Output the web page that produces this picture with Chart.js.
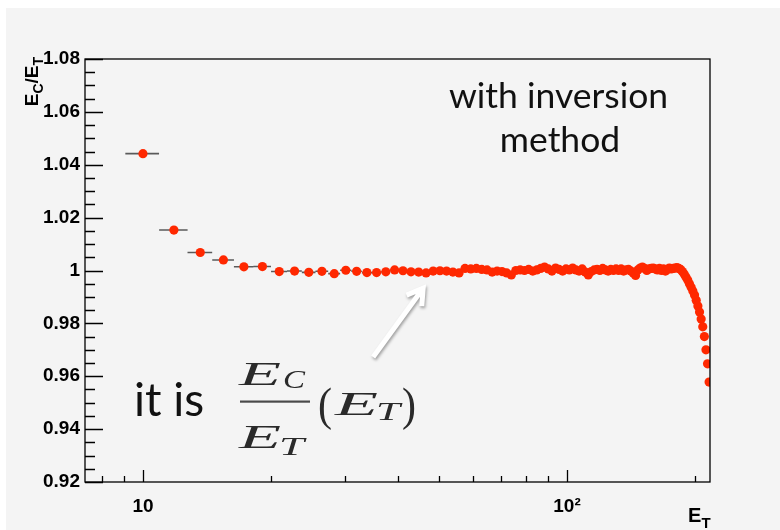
<!DOCTYPE html>
<html><head><meta charset="utf-8">
<script src="https://cdn.jsdelivr.net/npm/chart.js@4.4.1/dist/chart.umd.min.js"></script>
<style>html,body{margin:0;padding:0;background:#fff;}#wrap{width:780px;height:530px;position:relative;}canvas{display:block;}</style>
</head><body><div id="wrap"><canvas id="c" width="780" height="530"></canvas></div>
<script>
// ---- data ----
const energies = [10.00,11.83,13.65,15.48,17.30,19.13,20.96,22.78,24.61,26.43,
28.26,30.09,31.91,33.74,35.56,37.39,39.22,41.04,42.87,44.69,
46.52,48.35,50.17,52.00,53.82,55.65,57.48,59.30,61.13,62.95,
64.78,66.61,68.43,70.26,72.08,73.91,75.74,77.56,79.39,81.21,
83.04,84.87,86.69,88.52,90.34,92.17,94.00,95.82,97.65,99.47,
101.30,103.13,104.95,106.78,108.60,110.43,112.26,114.08,115.91,117.73,
119.56,121.39,123.21,125.04,126.86,128.69,130.52,132.34,134.17,135.99,
137.82,139.65,141.47,143.30,145.12,146.95,148.78,150.60,152.43,154.25,
156.08,157.91,159.73,161.56,163.38,165.21,167.04,168.86,170.69,172.51,
174.34,176.17,177.99,179.82,181.64,183.47,185.30,187.12,188.95,190.77,
192.60,194.43,196.25,198.08,199.90,201.73,203.56,205.38,207.21,209.03,
210.86,212.69,214.51,216.34];
const ratios = [1.0442,1.0153,1.0068,1.0040,1.0014,1.0015,0.9996,0.9998,0.9993,0.9997,
0.9988,1.0001,0.9997,0.9992,0.9992,0.9995,1.0002,0.9999,0.9995,0.9994,
0.9991,0.9998,0.9999,0.9998,0.9994,0.9991,1.0008,1.0006,1.0008,1.0004,
1.0002,0.9994,0.9998,0.9996,0.9991,0.9983,1.0000,1.0002,1.0000,1.0004,
0.9998,1.0002,1.0008,1.0013,1.0006,0.9998,1.0009,1.0004,0.9998,1.0006,
1.0002,1.0009,1.0002,0.9998,1.0006,0.9994,0.9983,0.9996,1.0002,1.0004,
1.0000,1.0008,1.0002,0.9998,1.0004,1.0000,1.0006,1.0000,1.0006,0.9998,
1.0002,1.0004,0.9998,0.9991,0.9981,1.0002,1.0009,1.0013,1.0008,1.0000,
1.0006,1.0008,1.0009,1.0006,1.0002,1.0008,1.0000,1.0006,0.9998,1.0004,
1.0009,1.0006,1.0008,1.0009,1.0011,1.0008,1.0004,0.9996,0.9987,0.9975,
0.9964,0.9950,0.9937,0.9922,0.9907,0.9887,0.9866,0.9843,0.9817,0.9787,
0.9750,0.9700,0.9647,0.9578];
const binHalfWidth = 0.913;
const yMin = 0.92, yMax = 1.08, yMajorStep = 0.02, yMinorStep = 0.005;
const xMin = 7.3, xMax = 217.4;
const xMajorTicks = [10, 100];
const xMinorTicks = [8, 9, 20, 30, 40, 50, 60, 70, 80, 90, 200];
const xTickLabels = {10: '10', 100: '10\u00B2'};
const yTickLabels = {'0.92':'0.92','0.94':'0.94','0.96':'0.96','0.98':'0.98','1.00':'1','1.02':'1.02','1.04':'1.04','1.06':'1.06','1.08':'1.08'};
const noteLines = ['with inversion', 'method'];
const noteText = 'it is';
// arrow annotation in data coordinates: [E, ratio]
const arrowTail = [34.9, 0.9673];
const arrowTip = [45.8, 0.9933];

const RED = '#ff2800';

const bgPlugin = {
  id: 'bg',
  beforeDraw(chart) {
    const c = chart.ctx;
    c.save();
    c.fillStyle = '#ffffff'; c.fillRect(0, 0, chart.width, chart.height);
    c.fillStyle = '#f4f4f4'; c.fillRect(6, 8, chart.width - 6, chart.height - 8);
    c.restore();
  }
};

const errPlugin = {
  id: 'errbars',
  beforeDatasetsDraw(chart) {
    const c = chart.ctx, xs = chart.scales.x, ys = chart.scales.y;
    c.save();
    c.strokeStyle = '#5a5a5a'; c.lineWidth = 1.6;
    c.beginPath();
    energies.forEach((e, i) => {
      const y = ys.getPixelForValue(ratios[i]);
      c.moveTo(xs.getPixelForValue(e - binHalfWidth), y);
      c.lineTo(xs.getPixelForValue(e + binHalfWidth), y);
    });
    c.stroke();
    c.restore();
  }
};

// draw a string stretched horizontally to a given width
function boxText(c, str, font, x, base, w) {
  c.save();
  c.font = font;
  const m = c.measureText(str).width;
  c.translate(x, base);
  c.scale(w / m, 1);
  c.fillText(str, 0, 0);
  c.restore();
}

const framePlugin = {
  id: 'frame',
  afterDatasetsDraw(chart) {
    const c = chart.ctx, a = chart.chartArea, xs = chart.scales.x, ys = chart.scales.y;
    c.save();
    c.strokeStyle = '#000'; c.lineWidth = 1.3;
    c.strokeRect(a.left, a.top, a.right - a.left, a.bottom - a.top);
    c.beginPath();
    const n = Math.round((yMax - yMin) / yMinorStep);
    for (let i = 0; i <= n; i++) {
      const v = yMin + i * yMinorStep;
      const py = Math.round(ys.getPixelForValue(v)) + 0.5;
      const len = (i % 4 === 0) ? 18 : 10;
      c.moveTo(a.left, py); c.lineTo(a.left + len, py);
    }
    xMajorTicks.forEach(v => { const px = Math.round(xs.getPixelForValue(v)) + 0.5; c.moveTo(px, a.bottom); c.lineTo(px, a.bottom - 12); });
    xMinorTicks.forEach(v => { const px = Math.round(xs.getPixelForValue(v)) + 0.5; c.moveTo(px, a.bottom); c.lineTo(px, a.bottom - 6); });
    c.stroke();

    // axis titles
    c.fillStyle = '#000';
    c.textBaseline = 'alphabetic';
    c.save();
    c.translate(38, 57);
    c.rotate(-Math.PI / 2);
    const big = "bold 19px 'Liberation Sans', Arial, sans-serif";
    const small = "bold 14px 'Liberation Sans', Arial, sans-serif";
    const parts = [['E', big, 0], ['C', small, 5], ['/', big, 0], ['E', big, 0], ['T', small, 5]];
    let tw = 0;
    parts.forEach(p => { c.font = p[1]; tw += c.measureText(p[0]).width; });
    let cx = -tw;
    parts.forEach(p => { c.font = p[1]; c.fillText(p[0], cx, p[2]); cx += c.measureText(p[0]).width; });
    c.restore();
    c.font = "bold 20px 'Liberation Sans', Arial, sans-serif";
    c.fillText('E', 688, 521.5);
    c.font = "bold 15px 'Liberation Sans', Arial, sans-serif";
    c.fillText('T', 701.5, 528);

    // notes
    c.fillStyle = '#111';
    c.textAlign = 'center';
    c.font = "35.5px Lato, 'Open Sans', sans-serif";
    c.fillText(noteLines[0], 558.5, 107.5);
    c.fillText(noteLines[1], 560, 151.5);
    c.textAlign = 'left';
    c.font = "46px Lato, 'Open Sans', sans-serif";
    c.fillText(noteText, 134, 416);

    // formula E_C / E_T (E_T)
    const ser = "italic 34px 'Liberation Serif', 'DejaVu Serif', serif";
    const serSub = "italic 25px 'Liberation Serif', 'DejaVu Serif', serif";
    const par = "46px 'Liberation Serif', 'DejaVu Serif', serif";
    c.fillStyle = '#2a2a2a';
    boxText(c, 'E', ser, 239, 385, 42);
    boxText(c, 'C', serSub, 283, 388, 22);
    boxText(c, 'E', ser, 239, 448, 42);
    boxText(c, 'T', serSub, 279, 455, 25);
    c.fillStyle = '#4a4a4a';
    c.fillRect(240, 400.5, 70, 2.2);
    c.fillStyle = '#2a2a2a';
    boxText(c, '(', par, 318, 420, 14);
    boxText(c, 'E', ser, 335, 415, 43);
    boxText(c, 'T', serSub, 376, 420, 24);
    boxText(c, ')', par, 402, 420, 14);

    // arrow
    const tx = xs.getPixelForValue(arrowTail[0]), ty = ys.getPixelForValue(arrowTail[1]);
    const hx = xs.getPixelForValue(arrowTip[0]), hy = ys.getPixelForValue(arrowTip[1]);
    const ang = Math.atan2(hy - ty, hx - tx);
    const hl = 18, ha = 0.55;
    const drawArrow = () => {
      c.beginPath();
      c.moveTo(tx, ty); c.lineTo(hx - Math.cos(ang) * 2, hy - Math.sin(ang) * 2);
      c.moveTo(hx - hl * Math.cos(ang - ha), hy - hl * Math.sin(ang - ha));
      c.lineTo(hx, hy);
      c.lineTo(hx - hl * Math.cos(ang + ha), hy - hl * Math.sin(ang + ha));
      c.stroke();
    };
    c.lineCap = 'butt'; c.lineJoin = 'miter';
    c.save();
    c.shadowColor = 'rgba(0,0,0,0.35)'; c.shadowBlur = 3; c.shadowOffsetX = 1; c.shadowOffsetY = 2;
    c.strokeStyle = '#ffffff'; c.lineWidth = 5;
    drawArrow();
    c.restore();
    c.restore();
  }
};

new Chart(document.getElementById('c'), {
  type: 'scatter',
  data: {
    datasets: [{
      data: energies.map((e, i) => ({x: e, y: ratios[i]})),
      backgroundColor: RED,
      borderColor: RED,
      borderWidth: 0,
      pointRadius: 4.6,
      pointHoverRadius: 4.6,
      showLine: false
    }]
  },
  options: {
    responsive: false,
    animation: false,
    devicePixelRatio: 1,
    layout: {padding: {top: 59, right: 70, left: 0, bottom: 0}},
    plugins: {legend: {display: false}, tooltip: {enabled: false}, title: {display: false}},
    scales: {
      x: {
        type: 'logarithmic', min: xMin, max: xMax,
        grid: {display: false, drawTicks: false}, border: {display: false},
        afterBuildTicks: s => { s.ticks = xMajorTicks.map(v => ({value: v})); },
        afterFit: s => { s.height = 48; },
        ticks: {
          autoSkip: false, maxRotation: 0, padding: 13, color: '#000',
          font: {family: "'Liberation Sans', Arial, sans-serif", size: 19, weight: 'bold'},
          callback: v => xTickLabels[v] || ''
        }
      },
      y: {
        min: yMin, max: yMax,
        grid: {display: false, drawTicks: false}, border: {display: false},
        afterFit: s => { s.width = 85; },
        ticks: {
          stepSize: yMajorStep, padding: 5, color: '#000',
          font: {family: "'Liberation Sans', Arial, sans-serif", size: 19, weight: 'bold'},
          callback: v => yTickLabels[Number(v).toFixed(2)] || ''
        }
      }
    }
  },
  plugins: [bgPlugin, errPlugin, framePlugin]
});
</script>
</body></html>
